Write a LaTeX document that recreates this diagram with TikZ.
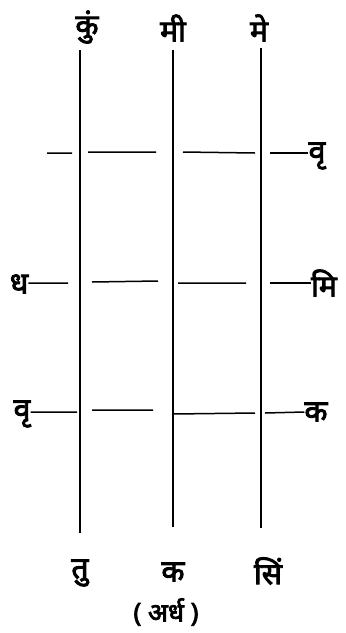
\documentclass[tikz,border=0pt]{standalone}
\usepackage{fontspec}
\usepackage{tikz}
\newfontfamily\deva[Script=Devanagari,FakeBold=3]{Noto Sans}

\begin{document}
\begin{tikzpicture}[x=1pt,y=-1pt,
  sign/.style={font=\deva\fontsize{30}{32}\selectfont,inner sep=0pt},
  rule/.style={line width=1.5pt},
]
  \useasboundingbox (0,0) rectangle (346,633);
  % top and bottom signs
  \node[sign] (ku) at (87,27) {कुं};
  \node[sign] (mi) at (173,28) {मी};
  \node[sign] (me) at (259,28) {मे};
  \node[sign] (tu) at (80,573) {तु};
  \node[sign] (ka) at (173,572) {क};
  \node[sign] (si) at (268,571) {सिं};
  % side signs
  \node[sign] (vr) at (317,156) {वृ};
  \node[sign] (mt) at (324,283) {मि};
  \node[sign] (kn) at (316,412) {क};
  \node[sign] (dh) at (19,284) {ध};
  \node[sign] (vs) at (22,414) {वृ};
  \node[sign,font=\deva\fontsize{26}{28}\selectfont] (ard) at (166,612) {( अर्ध )};
  % row heights
  \coordinate (r1) at (0,153);
  \coordinate (r2) at (0,283);
  \coordinate (r3) at (0,412);
  % the three uprights
  \draw[rule] (80,50) -- (80,533);
  \draw[rule] (173,50) -- (173,527);
  \draw[rule] (261,48) -- (261,528);
  % broken rows
  \draw[rule] (47,153) -- (72,153) (88,152) -- (156,152) (183,152) -- (255,153);
  \draw[rule] (vr.west |- r1) -- (270,153);
  \draw[rule] (dh.east |- r2) -- (68,283) (92,282) -- (158,281) (178,283) -- (246,283);
  \draw[rule] (mt.west |- r2) -- (270,283);
  \draw[rule] (vs.east |- r3) -- (77,412) (92,410) -- (153,410) (173,414) -- (255,413);
  \draw[rule] (kn.west |- r3) -- (265,413);
\end{tikzpicture}
\end{document}
